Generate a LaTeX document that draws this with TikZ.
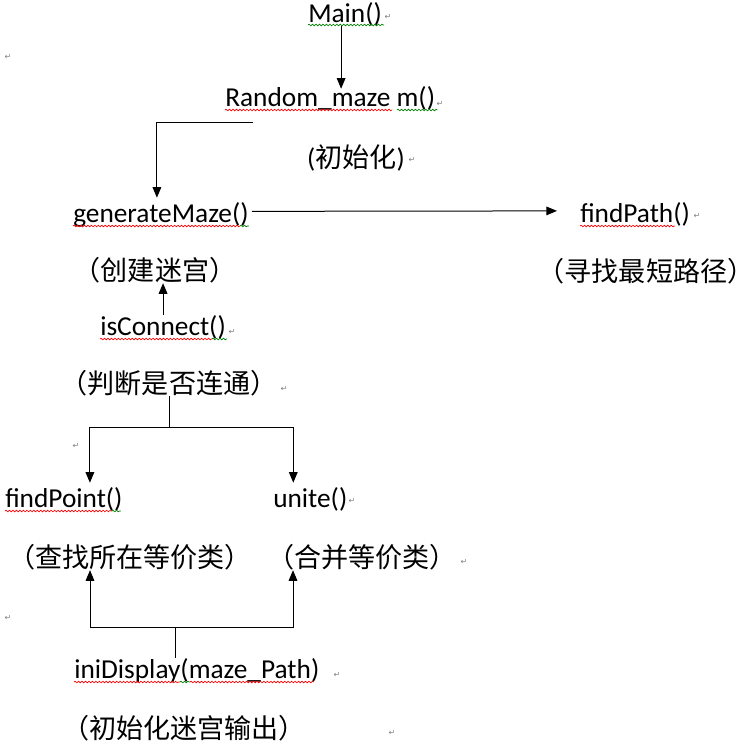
\documentclass[tikz,border=0pt]{standalone}
\usepackage{fontspec}
\setmainfont{Carlito}
\newfontfamily\cjk{Noto Sans CJK SC}
\newfontfamily\pilcrow{DejaVu Sans}
\usetikzlibrary{arrows.meta,positioning,decorations.pathmorphing}
\tikzstyle{func} = [inner sep=0,anchor=base west,font=\fontsize{20.5}{24}\selectfont]
\tikzstyle{note} = [inner sep=0,font=\cjk\fontsize{20.3}{24}\selectfont]
\tikzstyle{link} = [-{Triangle[length=8pt,width=6.5pt]},line width=0.75pt]
\tikzstyle{wire} = [-,line width=0.75pt]
\tikzstyle{pmark} = [inner sep=0,text=gray,font=\pilcrow\fontsize{6}{6}\selectfont]
\tikzstyle{spell} = [red,line width=0.5pt,decorate,decoration={snake,amplitude=0.6pt,segment length=2.6pt}]
\tikzstyle{gram} = [spell,green!50!black]

\begin{document}
\begin{tikzpicture}[x=0.75pt,y=-0.75pt]
      \useasboundingbox (0,0) rectangle (755,750);
      \node[func] (main) at (308,22) {Main()};
      \node[func] (rand) at (225,106) {Random\_maze m()};
      \node[note] (init) at (356,158) {{\rmfamily(}初始化{\rmfamily)}};
      \node[func] (gen) at (73,222) {generateMaze()};
      \node[func] (path) at (580,222) {findPath()};
      \node[note] (cr) at (155,270) {（创建迷宫）};
      \node[note] (fsp) at (646,271) {（寻找最短路径）};
      \node[func] (isc) at (100,335) {isConnect()};
      \node[note] (jd) at (169,383) {（判断是否连通）};
      \node[func] (fp) at (5,507) {findPoint()};
      \node[func] (un) at (273,507) {unite()};
      \node[note] (cz) at (130,557) {（查找所在等价类）};
      \node[note] (hb) at (362,557) {（合并等价类）};
      \node[func] (ini) at (74,678) {iniDisplay(maze\_Path)};
      \node[note] (out) at (184,728) {（初始化迷宫输出）};
      % paragraph marks
      \foreach \x/\y [count=\i] in {388/17,8/57,440/104,412/160,697/216,232/332,284/389,76/446,352/501,464/562,8/618,337/675,392/733}
        \node[pmark] (pm\i) at (\x,\y) {↵};
      % calls
      \draw[link] ([shift={(-4,0)}]main.south) -- ([shift={(-4,3)}]main.south |- rand.north);
      \draw[link] ([shift={(28,16)}]rand.base west) -| ([shift={(-4,-4)}]gen.north);
      \draw[link] ([shift={(3,-3)}]gen.east) -- ([shift={(-23,-3)}]path.west);
      \draw[link] (isc.north) -- (isc.north |- cr.south);
      \draw[wire] (jd.south) -- ++(0,31) coordinate (split);
      \draw[link] (split) -| ([shift={(26,-4)}]fp.north);
      \draw[link] (split) -| ([shift={(-17,-4)}]un.north);
      \draw[wire] ([shift={(-21,0)}]ini.north) -- ++(0,-30) coordinate (join);
      \draw[link] (join) -| ([shift={(-40,0)}]cz.south);
      \draw[link] (join) -| ([shift={(-69,0)}]hb.south);
      % spelling marks
      \draw[gram] ([shift={(0,3)}]main.base west) -- ([shift={(2,3)}]main.base east);
      \draw[spell] ([shift={(0,4)}]rand.base west) -- +(167,0);
      \draw[gram] ([shift={(172,4)}]rand.base west) -- ([shift={(2,4)}]rand.base east);
      \draw[spell] ([shift={(0,4)}]gen.base west) -- +(167,0);
      \draw[gram] ([shift={(167,4)}]gen.base west) -- ([shift={(0,4)}]gen.base east);
      \draw[spell] ([shift={(0,4)}]isc.base west) -- +(112,0);
      \draw[gram] ([shift={(112,4)}]isc.base west) -- ([shift={(1,4)}]isc.base east);
      \draw[spell] ([shift={(0,4)}]path.base west) -- +(95,0);
      \draw[spell] ([shift={(0,4)}]fp.base west) -- +(107,0);
      \draw[gram] ([shift={(107,4)}]fp.base west) -- ([shift={(-2,4)}]fp.base east);
      \draw[spell] ([shift={(0,4)}]ini.base west) -- +(106,0);
      \draw[gram] ([shift={(106,4)}]ini.base west) -- +(10,0);
      \draw[spell] ([shift={(116,4)}]ini.base west) -- ([shift={(-6,4)}]ini.base east);
    \end{tikzpicture}
\end{document}
